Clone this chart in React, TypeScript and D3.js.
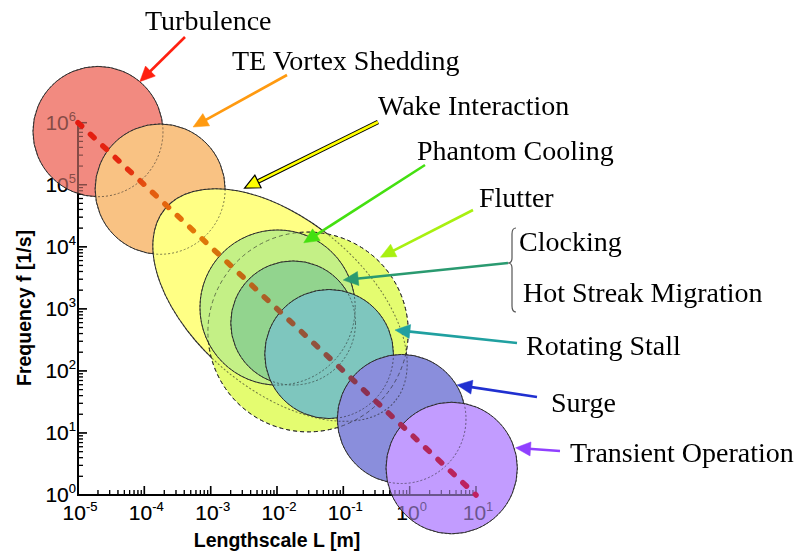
import React from "react";
import * as d3 from "d3";

// ---------- data ----------
const xDecades = [-5, -4, -3, -2, -1, 0, 1];
const yDecades = [0, 1, 2, 3, 4, 5, 6];

// phenomena bubbles (drawing order), centre lengthscale [m], centre frequency [1/s],
// half-extent in decades (L and f) and tilt of the range ellipse
const bubbleNames = [
  "Turbulence",
  "TE Vortex Shedding",
  "Wake Interaction",
  "Flutter",
  "Phantom Cooling",
  "Clocking / Hot Streak Migration",
  "Rotating Stall",
  "Surge",
  "Transient Operation",
];
const bubbleL = [2.0e-5, 1.73e-4, 0.0111, 0.0294, 0.0102, 0.0175, 0.061, 0.757, 4.3];
const bubbleF = [7.2e5, 8.5e4, 1153, 424, 1050, 592, 187, 16.8, 2.72];
const bubbleSpanL = [0.98, 0.98, 2.26, 1.51, 1.17, 0.94, 0.97, 0.97, 0.99];
const bubbleSpanF = [1.05, 1.05, 1.37, 1.61, 1.25, 1.0, 1.04, 1.04, 1.06];
const bubbleTilt = [0, 0, 40, 0, 0, 0, 0, 0, 0];

// trend line f ~ 1/L
const trendL = [1e-5, 1e1];
const trendF = [1e6, 1e0];

// ---------- styles ----------
const bubbleFill = ["#f28a80", "#f9c283", "#ffff84", "#e4fc70", "#c4f086", "#92d48e", "#7ec6be", "#8a8edc", "#c29cff"];
const bubbleDash = ["", "", "", "4,3", "", "", "", "", ""];

// annotations: text, label anchor, arrow start, target bubble, angle on bubble, radial factor, colour
const annText = ["Turbulence", "TE Vortex Shedding", "Wake Interaction", "Phantom Cooling", "Flutter", "Rotating Stall", "Surge", "Transient Operation"];
const annTextX = [145, 232, 378, 417, 479, 526, 551, 570];
const annTextY = [30, 70, 115, 160, 207, 355, 412, 462];
const annFromX = [185, 287, 378, 425, 473, 517, 537, 560];
const annFromY = [37, 75, 122, 165, 210, 343, 397, 451];
const annBubble = [0, 1, 2, 4, 3, 6, 7, 8];
const annAngle = [-50, -62, -131, -68, -46, -20, -31.5, -17.5];
const annFactor = [1.0, 1.08, 1.04, 0.9, 1.04, 1.09, 1.01, 1.02];
const annColor = ["#ff2010", "#ff9a10", "#ffff00", "#44e010", "#a8f010", "#20a0a0", "#2030d0", "#9040ff"];

export default function App() {
  const W = 802;
  const H = 554;
  const x = d3.scaleLog().domain([1e-5, 1e1]).range([78, 476]);
  const y = d3.scaleLog().domain([1, 1e6]).range([495, 122.7]);

  const bubbles = bubbleNames.map((n, i) => {
    const cx = x(bubbleL[i]);
    const cy = y(bubbleF[i]);
    const rx = x(bubbleL[i] * Math.pow(10, bubbleSpanL[i])) - cx;
    const ry = cy - y(bubbleF[i] * Math.pow(10, bubbleSpanF[i]));
    return { n, cx, cy, rx, ry, tilt: bubbleTilt[i] };
  });

  const pointOn = (b: any, angDeg: number, k: number) => {
    const t = (angDeg * Math.PI) / 180;
    const th = (b.tilt * Math.PI) / 180;
    const lx = k * b.rx * Math.cos(t);
    const ly = k * b.ry * Math.sin(t);
    return [b.cx + lx * Math.cos(th) - ly * Math.sin(th), b.cy + lx * Math.sin(th) + ly * Math.cos(th)];
  };

  const arrow = (x0: number, y0: number, x1: number, y1: number, color: string, key: string, outline = false) => {
    const dx = x1 - x0, dy = y1 - y0;
    const len = Math.hypot(dx, dy);
    const ux = dx / len, uy = dy / len;
    const hl = 15, hw = 7;
    const bx = x1 - ux * hl, by = y1 - uy * hl;
    const pts = `${x1},${y1} ${bx - uy * hw},${by + ux * hw} ${bx + uy * hw},${by - ux * hw}`;
    return (
      <g key={key}>
        {outline && <line x1={x0} y1={y0} x2={bx + ux * 2} y2={by + uy * 2} stroke="#000" strokeWidth={4.6} />}
        <line x1={x0} y1={y0} x2={bx + ux * 2} y2={by + uy * 2} stroke={color} strokeWidth={2.6} />
        <polygon points={pts} fill={color} stroke={outline ? "#000" : color} strokeWidth={outline ? 1.2 : 0.5} />
      </g>
    );
  };

  // minor ticks
  const xMinor: number[] = [];
  xDecades.slice(0, -1).forEach((d) => {
    for (let m = 2; m <= 9; m++) xMinor.push(m * Math.pow(10, d));
  });
  const yMinor: number[] = [];
  yDecades.slice(0, -1).forEach((d) => {
    for (let m = 2; m <= 9; m++) yMinor.push(m * Math.pow(10, d));
  });

  const axisFont = "'Liberation Sans', Arial, sans-serif";
  const serif = "'Liberation Serif', 'Times New Roman', serif";

  const x0 = x(trendL[0]), y0 = y(trendF[0]), x1 = x(trendL[1]), y1 = y(trendF[1]);

  const braceX = 512;
  const braceTop = 228;
  const braceBot = 312;
  const braceMid = 263;
  const clockTip = pointOn(bubbles[5], -40.7, 1.06);

  const axes = (k: string) => (
    <g key={k}>
      <g stroke="#000">
        <line x1={78} y1={495} x2={476} y2={495} strokeWidth={2} />
        <line x1={78} y1={496} x2={78} y2={122.7} strokeWidth={2} />
        {xDecades.map((d) => (
          <line key={"xM" + d} x1={x(Math.pow(10, d))} x2={x(Math.pow(10, d))} y1={495} y2={486} strokeWidth={1.5} />
        ))}
        {xMinor.map((v, i) => (
          <line key={"xm" + i} x1={x(v)} x2={x(v)} y1={495} y2={490} strokeWidth={1.2} />
        ))}
        {yDecades.map((d) => (
          <line key={"yM" + d} x1={78} x2={87} y1={y(Math.pow(10, d))} y2={y(Math.pow(10, d))} strokeWidth={1.5} />
        ))}
        {yMinor.map((v, i) => (
          <line key={"ym" + i} x1={78} x2={83} y1={y(v)} y2={y(v)} strokeWidth={1.2} />
        ))}
      </g>
      {xDecades.map((d) => (
        <text key={"xl" + d} x={x(Math.pow(10, d)) + 2} y={520} textAnchor="middle" fontSize={21} fill="#000">
          <tspan>10</tspan>
          <tspan dy={-9} fontSize={13}>{String(d)}</tspan>
        </text>
      ))}
      {yDecades.map((d) => (
        <text key={"yl" + d} x={76} y={y(Math.pow(10, d)) + 7} textAnchor="end" fontSize={21} fill="#000">
          <tspan>10</tspan>
          <tspan dy={-9} fontSize={13}>{String(d)}</tspan>
        </text>
      ))}
    </g>
  );

  const ellipseProps = (b: any) => ({
    cx: b.cx,
    cy: b.cy,
    rx: b.rx,
    ry: b.ry,
    transform: b.tilt ? `rotate(${b.tilt} ${b.cx} ${b.cy})` : undefined,
  });

  return (
    <svg width={W} height={H} style={{ position: "absolute", left: 0, top: 0, background: "#fff" }} fontFamily={axisFont}>
      <defs>
        <linearGradient id="trend" gradientUnits="userSpaceOnUse" x1={x0} y1={y0} x2={x1} y2={y1}>
          <stop offset="0" stopColor="#e41a10" />
          <stop offset="0.12" stopColor="#e42a10" />
          <stop offset="0.18" stopColor="#e45a10" />
          <stop offset="0.3" stopColor="#e27a08" />
          <stop offset="0.4" stopColor="#c86a10" />
          <stop offset="0.5" stopColor="#a05a30" />
          <stop offset="0.62" stopColor="#8e5040" />
          <stop offset="0.72" stopColor="#8a3050" />
          <stop offset="0.85" stopColor="#b02858" />
          <stop offset="1" stopColor="#c02060" />
        </linearGradient>
      </defs>

      {axes("ax")}
      <text x={277} y={547} textAnchor="middle" fontSize={19.5} fontWeight="bold">Lengthscale L [m]</text>
      <text transform={`translate(31,308) rotate(-90)`} textAnchor="middle" fontSize={19.5} fontWeight="bold">Frequency f [1/s]</text>

      {/* bubbles (screen-door transparency: top fill covers, things beneath show at half strength) */}
      {bubbles.map((b, i) => (
        <ellipse
          key={"b" + i}
          {...ellipseProps(b)}
          fill={bubbleFill[i]}
          stroke="#333"
          strokeWidth={1}
          strokeDasharray={bubbleDash[i] || undefined}
        />
      ))}
      <g opacity={0.45}>{axes("ax2")}</g>
      <g opacity={0.6}>
        {bubbles.map((b, i) => (
          <ellipse
            key={"o" + i}
            {...ellipseProps(b)}
            fill="none"
            stroke="#222"
            strokeWidth={1}
            strokeDasharray={bubbleDash[i] || "2,2"}
          />
        ))}
      </g>

      {/* trend line */}
      <line x1={x0} y1={y0} x2={x1} y2={y1} stroke="url(#trend)" strokeWidth={5.5} strokeDasharray="5,12" strokeLinecap="round" />

      {/* annotations */}
      {annText.map((t, i) => {
        const tip = pointOn(bubbles[annBubble[i]], annAngle[i], annFactor[i]);
        return arrow(annFromX[i], annFromY[i], tip[0], tip[1], annColor[i], "a" + i, i === 2);
      })}
      {arrow(braceX - 4, braceMid, clockTip[0], clockTip[1], "#2a9a70", "clock")}
      <path
        d={`M${braceX + 4},${braceTop} Q${braceX},${braceTop} ${braceX},${braceTop + 6} L${braceX},${braceMid - 5} Q${braceX},${braceMid} ${braceX - 4},${braceMid} Q${braceX},${braceMid} ${braceX},${braceMid + 5} L${braceX},${braceBot - 6} Q${braceX},${braceBot} ${braceX + 4},${braceBot}`}
        fill="none"
        stroke="#555"
        strokeWidth={1.2}
      />
      {annText.map((t, i) => (
        <text key={"t" + i} x={annTextX[i]} y={annTextY[i]} fontFamily={serif} fontSize={28} fill="#000">{t}</text>
      ))}
      <text x={519} y={251} fontFamily={serif} fontSize={28} fill="#000">Clocking</text>
      <text x={523} y={302} fontFamily={serif} fontSize={28} fill="#000">Hot Streak Migration</text>
    </svg>
  );
}
